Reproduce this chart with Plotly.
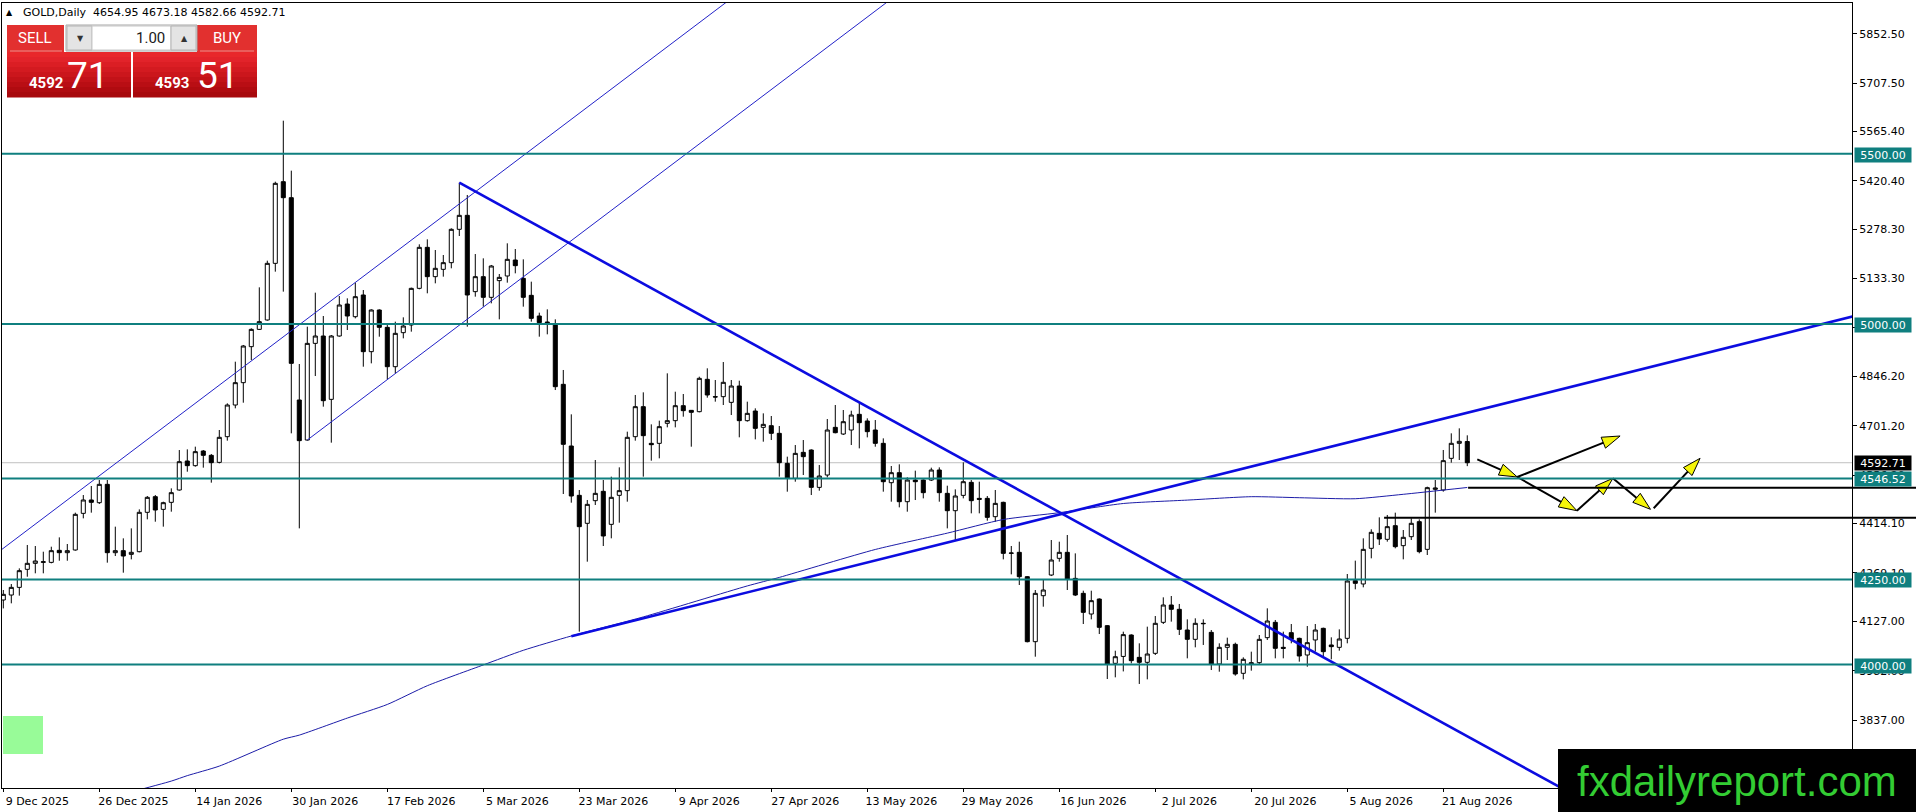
import plotly.graph_objects as go

# ---------------- data ----------------
date_labels = ["9 Dec 2025", "26 Dec 2025", "14 Jan 2026", "30 Jan 2026", "17 Feb 2026",
               "5 Mar 2026", "23 Mar 2026", "9 Apr 2026", "27 Apr 2026", "13 May 2026",
               "29 May 2026", "16 Jun 2026", "2 Jul 2026", "20 Jul 2026", "5 Aug 2026",
               "21 Aug 2026"]
date_label_bars = [0, 12, 24, 36, 48, 60, 72, 84, 96, 108, 120, 132, 144, 156, 168, 180]

opens = [4189.7, 4204.3, 4226.8, 4279.7, 4297.3, 4300.0, 4300.2, 4335.5, 4328.6, 4336.5,
         4444.1, 4483.3, 4475.4, 4529.3, 4328.6, 4334.5, 4323.7, 4331.5, 4447.1, 4493.1,
         4455.8, 4476.4, 4512.6, 4597.8, 4584.1, 4627.1, 4614.4, 4593.8, 4669.2, 4762.2,
         4827.8, 4933.5, 4984.3, 5011.8, 5178.1, 5417.9, 5370.9, 4776.9, 4659.4, 4943.2,
         4964.8, 4778.8, 4964.8, 5058.7, 5021.5, 5085.2, 4918.8, 5041.1, 4990.2, 4874.7,
         4974.6, 4997.1, 5104.7, 5225.1, 5139.0, 5160.5, 5180.1, 5278.0, 5319.1, 5095.0,
         5139.0, 5078.3, 5127.3, 5141.0, 5187.9, 5134.1, 5084.2, 5023.5, 5005.9, 5000.0,
         4822.9, 4641.8, 4497.0, 4414.8, 4481.3, 4508.7, 4411.8, 4497.0, 4510.7, 4669.2,
         4757.3, 4649.6, 4649.6, 4708.4, 4716.2, 4760.2, 4746.5, 4742.6, 4837.6, 4786.7,
         4786.7, 4770.0, 4818.0, 4716.2, 4744.5, 4696.6, 4701.5, 4679.0, 4590.9, 4546.8,
         4623.2, 4630.0, 4520.4, 4556.6, 4696.6, 4677.0, 4688.8, 4734.8, 4715.2, 4688.8,
         4649.6, 4534.1, 4563.5, 4478.3, 4541.9, 4541.9, 4541.9, 4571.3, 4502.8, 4451.9,
         4496.9, 4535.1, 4488.1, 4488.1, 4434.3, 4476.4, 4326.6, 4329.6, 4258.1, 4067.3,
         4202.3, 4263.0, 4312.0, 4329.6, 4253.2, 4209.2, 4148.5, 4192.5, 4114.3, 4003.7,
         4024.0, 4086.9, 4021.3, 4006.7, 4033.1, 4124.1, 4175.0, 4162.3, 4101.6, 4074.2,
         4121.2, 4094.7, 4001.8, 4050.7, 4059.5, 3974.4, 4000.8, 4005.7, 4079.1, 4124.1,
         4050.7, 4093.8, 4077.1, 4028.2, 4072.3, 4106.5, 4057.6, 4050.7, 4077.1, 4246.4,
         4236.7, 4341.4, 4385.4, 4367.8, 4407.9, 4349.2, 4375.6, 4419.7, 4338.4, 4514.6,
         4512.6, 4605.6, 4649.7, 4654.95]
highs = [4219.0, 4236.6, 4282.6, 4351.2, 4348.2, 4331.5, 4346.2, 4373.6, 4354.1, 4446.1,
         4497.9, 4524.4, 4542.0, 4542.0, 4405.0, 4370.7, 4400.0, 4455.8, 4495.0, 4497.9,
         4478.3, 4517.5, 4630.0, 4632.0, 4639.9, 4630.0, 4618.3, 4688.8, 4767.1, 4889.4,
         4938.4, 4987.3, 5107.7, 5186.0, 5417.9, 5597.0, 5450.2, 4882.6, 4992.2, 5092.0,
         5023.5, 4967.7, 5082.2, 5075.4, 5121.4, 5099.8, 5043.1, 5043.1, 5002.0, 5006.9,
         5019.6, 5106.7, 5233.9, 5248.6, 5217.3, 5202.6, 5280.9, 5415.0, 5378.8, 5205.5,
         5192.8, 5173.3, 5146.8, 5236.9, 5220.2, 5189.9, 5124.3, 5033.3, 5043.1, 5013.7,
         4865.0, 4734.8, 4512.6, 4483.3, 4600.7, 4542.0, 4551.8, 4579.2, 4683.9, 4791.6,
         4799.4, 4705.4, 4716.2, 4855.2, 4801.3, 4794.5, 4747.5, 4845.4, 4869.9, 4835.6,
         4888.4, 4835.6, 4833.6, 4772.0, 4752.4, 4737.7, 4729.9, 4700.5, 4610.5, 4644.7,
         4659.4, 4632.0, 4586.0, 4721.1, 4762.2, 4747.5, 4745.5, 4769.0, 4723.0, 4718.1,
         4664.3, 4583.1, 4588.0, 4549.8, 4569.4, 4543.9, 4578.2, 4579.1, 4525.3, 4514.5,
         4593.8, 4541.9, 4537.0, 4495.0, 4512.6, 4478.3, 4348.2, 4360.9, 4260.0, 4219.0,
         4248.3, 4365.8, 4360.9, 4380.5, 4326.6, 4217.0, 4217.0, 4194.5, 4116.2, 4040.8,
         4096.7, 4088.9, 4062.5, 4111.4, 4142.7, 4197.5, 4201.4, 4178.0, 4132.9, 4135.9,
         4132.9, 4101.6, 4062.5, 4079.1, 4064.4, 4021.3, 4038.0, 4086.9, 4165.2, 4131.0,
         4096.7, 4119.2, 4079.1, 4113.3, 4119.2, 4108.5, 4080.1, 4103.5, 4266.0, 4305.2,
         4370.7, 4397.2, 4432.4, 4439.3, 4446.1, 4395.2, 4429.5, 4426.5, 4522.4, 4542.0,
         4630.1, 4679.0, 4693.7, 4673.18]
lows = [4165.0, 4179.9, 4202.4, 4258.0, 4268.0, 4268.0, 4297.3, 4305.0, 4305.0, 4334.5,
        4429.4, 4446.1, 4471.5, 4299.3, 4318.8, 4269.9, 4309.0, 4329.6, 4426.5, 4419.6,
        4405.0, 4449.0, 4510.7, 4566.4, 4581.1, 4578.2, 4534.2, 4590.9, 4657.5, 4752.4,
        4769.0, 4894.3, 4982.4, 5009.8, 5153.7, 5095.0, 4679.0, 4400.0, 4657.5, 4847.3,
        4757.3, 4651.6, 4962.8, 4982.4, 5016.6, 4874.7, 4884.5, 4962.8, 4837.6, 4855.2,
        4957.9, 4977.5, 5101.8, 5090.1, 5119.4, 5139.0, 5163.5, 5258.4, 4992.2, 5080.3,
        5050.9, 5060.7, 5013.7, 5121.4, 5148.8, 5050.9, 5006.9, 4962.8, 4969.7, 4806.2,
        4500.9, 4475.4, 4096.7, 4302.2, 4468.6, 4348.2, 4370.7, 4416.7, 4478.4, 4657.5,
        4551.8, 4598.7, 4605.6, 4696.6, 4696.6, 4727.9, 4639.8, 4740.7, 4783.7, 4772.0,
        4762.2, 4732.8, 4667.3, 4713.3, 4661.3, 4654.5, 4659.4, 4551.7, 4507.7, 4537.0,
        4556.6, 4497.9, 4510.6, 4549.8, 4679.0, 4674.1, 4644.7, 4634.9, 4667.2, 4639.8,
        4507.7, 4478.3, 4461.7, 4449.0, 4483.2, 4488.1, 4539.0, 4478.3, 4400.0, 4365.8,
        4488.1, 4444.1, 4444.1, 4422.5, 4419.6, 4309.0, 4265.0, 4233.7, 4065.3, 4023.2,
        4170.0, 4260.0, 4302.2, 4219.0, 4201.3, 4119.2, 4132.8, 4089.8, 3957.7, 3962.6,
        3980.0, 4003.7, 3943.1, 3956.7, 4028.2, 4119.2, 4126.1, 4086.9, 4018.4, 4050.7,
        4057.6, 3984.1, 3979.2, 4013.5, 3967.5, 3956.7, 3982.2, 4001.8, 4072.3, 4018.4,
        4018.4, 4062.5, 4008.6, 3993.9, 4038.0, 4023.3, 4015.5, 4040.9, 4062.5, 4221.0,
        4226.9, 4312.0, 4351.2, 4361.0, 4341.4, 4309.1, 4365.8, 4326.7, 4321.8, 4446.1,
        4507.8, 4592.9, 4600.7, 4582.66]
closes = [4206.3, 4226.8, 4275.8, 4297.3, 4304.1, 4302.0, 4334.5, 4328.6, 4334.5, 4441.2,
          4483.3, 4476.4, 4529.3, 4328.6, 4334.5, 4318.8, 4329.6, 4447.1, 4491.1, 4453.9,
          4475.4, 4504.8, 4595.8, 4584.1, 4625.2, 4614.4, 4592.9, 4667.3, 4762.2, 4827.8,
          4935.4, 4984.3, 5006.9, 5178.1, 5413.0, 5370.9, 4884.5, 4657.5, 4943.2, 4964.8,
          4774.9, 4964.8, 5055.8, 5023.5, 5080.3, 4918.8, 5041.1, 4990.2, 4874.7, 4972.6,
          4994.1, 5104.7, 5225.1, 5139.0, 5163.5, 5180.1, 5278.0, 5319.1, 5085.2, 5139.0,
          5078.3, 5170.3, 5137.0, 5189.9, 5171.3, 5078.3, 5016.6, 5004.0, 5004.0, 4816.0,
          4646.7, 4495.0, 4405.0, 4470.5, 4502.8, 4377.6, 4491.1, 4510.7, 4667.3, 4757.3,
          4672.2, 4645.7, 4698.6, 4716.2, 4760.2, 4745.6, 4740.7, 4840.5, 4791.6, 4785.7,
          4828.8, 4818.0, 4716.2, 4737.7, 4693.6, 4705.4, 4679.0, 4592.8, 4546.8, 4620.2,
          4610.5, 4520.4, 4553.7, 4688.8, 4680.9, 4713.2, 4732.8, 4710.3, 4683.9, 4649.6,
          4537.0, 4563.5, 4478.3, 4541.9, 4537.0, 4504.8, 4571.3, 4504.8, 4451.9, 4495.0,
          4537.0, 4481.3, 4485.2, 4432.3, 4473.4, 4326.6, 4327.6, 4258.1, 4067.3, 4209.2,
          4219.0, 4307.1, 4329.6, 4250.3, 4204.3, 4153.4, 4187.7, 4109.4, 4000.7, 4023.2,
          4088.0, 4011.6, 4006.7, 4031.1, 4121.2, 4175.0, 4162.3, 4103.5, 4074.2, 4121.2,
          4120.2, 4001.8, 4050.7, 4059.5, 3972.4, 4015.5, 4005.7, 4074.2, 4128.0, 4047.8,
          4047.8, 4074.2, 4025.3, 4064.4, 4101.6, 4038.0, 4052.7, 4075.2, 4245.5, 4238.6,
          4338.4, 4388.4, 4368.8, 4405.0, 4346.3, 4373.7, 4414.8, 4331.6, 4519.5, 4518.5,
          4598.8, 4649.7, 4655.5, 4592.71]

# moving-average curve (bar index, price)
ma_bars = [15, 21, 23, 27, 35, 37, 43, 48, 53, 60, 65, 71, 80, 93, 97, 109, 118, 125,
           132, 140, 148, 156, 162, 169, 175, 183]
ma_vals = [3620, 3658, 3674, 3702, 3781, 3793, 3843, 3883, 3938, 3999, 4042, 4084, 4140,
           4231, 4256, 4338, 4386, 4426, 4446, 4473, 4483, 4493, 4490, 4487, 4500, 4520]

# trend lines: [bar0, bar1], [price0, price1]
channel_upper_x, channel_upper_y = [-2, 91], [4306.0, 5955.8]
channel_lower_x, channel_lower_y = [38, 112], [4659.4, 5972.2]
trend_down_x, trend_down_y = [57, 200], [5415.0, 3570.3]
trend_up_x, trend_up_y = [71, 240], [4083.0, 5073.7]

# horizontal levels
levels = [5500.00, 5000.00, 4546.52, 4250.00, 4000.00]
bid_price = 4592.71
ray_bars = [183.1, 172.6]
ray_prices = [4519.4, 4431.3]

# projected path arrows: (bar0, price0, bar1, price1)
arrow_x0 = [184.25, 189.25, 189.25, 196.7, 201.2, 206.3]
arrow_y0 = [4602.7, 4550.8, 4550.8, 4451.9, 4547.0, 4458.9]
arrow_x1 = [189.25, 202.1, 196.7, 201.2, 205.9, 212.1]
arrow_y1 = [4550.8, 4671.2, 4451.9, 4547.0, 4455.9, 4605.7]

ytick_vals = [5852.5, 5707.5, 5565.4, 5420.4, 5278.3, 5133.3, 4989.2, 4846.2, 4701.2,
              4556.2, 4414.1, 4269.1, 4127.0, 3982.0, 3837.0]

title_text = "GOLD,Daily  4654.95 4673.18 4582.66 4592.71"
sell_big, sell_small = "71", "4592"
buy_big, buy_small = "51", "4593"
lot_text = "1.00"

# ---------------- layout geometry ----------------
FIG_W, FIG_H = 1916, 812
ML, MR, MT, MB = 2, 64, 3, 24
PW = FIG_W - ML - MR
PH = FIG_H - MT - MB
X_RANGE = [-0.1625, 231.09]
Y_RANGE = [3637.7, 5942.5]


def px(x):
    return (x - ML) / PW


def py(y):
    return 1 - (y - MT) / PH


def bar_to_paper(b):
    return (b - X_RANGE[0]) / (X_RANGE[1] - X_RANGE[0])


FONT = "DejaVu Sans"
TEAL = "#0f7f7f"
BLUE = "#0c0ce0"

fig = go.Figure()

fig.add_trace(go.Candlestick(
    x=list(range(len(opens))), open=opens, high=highs, low=lows, close=closes,
    increasing=dict(line=dict(color="black", width=1), fillcolor="white"),
    decreasing=dict(line=dict(color="black", width=1), fillcolor="black"),
    whiskerwidth=0, showlegend=False, hoverinfo="none"))

fig.add_trace(go.Scatter(x=ma_bars, y=ma_vals, mode="lines",
                         line=dict(color="#1c1ca8", width=1, shape="spline", smoothing=0.6),
                         showlegend=False, hoverinfo="skip"))

for xs, ys, w in [(channel_upper_x, channel_upper_y, 1), (channel_lower_x, channel_lower_y, 1),
                  (trend_down_x, trend_down_y, 2.6), (trend_up_x, trend_up_y, 2.6)]:
    fig.add_trace(go.Scatter(x=xs, y=ys, mode="lines",
                             line=dict(color=BLUE if w > 1 else "#2222c8", width=w),
                             showlegend=False, hoverinfo="skip"))

for x0, y0, x1, y1 in zip(arrow_x0, arrow_y0, arrow_x1, arrow_y1):
    fig.add_trace(go.Scatter(
        x=[x0, x1], y=[y0, y1], mode="lines+markers",
        line=dict(color="black", width=2),
        marker=dict(symbol="arrow", size=19, angleref="previous", color="#f5f50a",
                    line=dict(color="black", width=1)),
        showlegend=False, hoverinfo="skip"))

shapes = []
# level lines
for lv in levels:
    shapes.append(dict(type="line", xref="paper", yref="y", x0=0, x1=1, y0=lv, y1=lv,
                       line=dict(color=TEAL, width=2), layer="above"))
shapes.append(dict(type="line", xref="paper", yref="y", x0=0, x1=1, y0=bid_price, y1=bid_price,
                   line=dict(color="#c0c0c0", width=1), layer="below"))
for b, p in zip(ray_bars, ray_prices):
    shapes.append(dict(type="line", xref="paper", yref="y", x0=bar_to_paper(b), x1=px(FIG_W),
                       y0=p, y1=p, line=dict(color="black", width=2), layer="above"))


def rect(x0, y0, x1, y1, fill, line_color=None, lw=0):
    shapes.append(dict(type="rect", xref="paper", yref="paper",
                       x0=px(x0), x1=px(x1), y0=py(y1), y1=py(y0),
                       fillcolor=fill, line=dict(color=line_color or fill, width=lw),
                       layer="above"))


# one-click trading panel
rect(7, 25, 64, 52, "#e2302f")
rect(197, 25, 257, 52, "#e2302f")
reds = ["#e8272b", "#e2232a", "#db1e24", "#d31a20", "#cb161c", "#c21218", "#b90e14", "#b00b10", "#a8090d"]
band_h = 45 / len(reds)
for k, c in enumerate(reds):
    y0 = 52 + k * band_h
    rect(7, y0, 131, y0 + band_h + 0.5, c)
    rect(133, y0, 257, y0 + band_h + 0.5, c)
shapes.append(dict(type="line", xref="paper", yref="paper", x0=px(10), x1=px(62), y0=py(51), y1=py(51),
                   line=dict(color="#f08a8a", width=1), layer="above"))
shapes.append(dict(type="line", xref="paper", yref="paper", x0=px(200), x1=px(254), y0=py(51), y1=py(51),
                   line=dict(color="#f08a8a", width=1), layer="above"))
rect(66, 25, 197, 51, "#f0f0f0", "#a6a6a6", 1)
rect(67, 26, 92, 50, "#e4e4e4", "#b4b4b4", 1)
rect(92, 26, 171, 50, "#ffffff", "#c8c8c8", 1)
rect(171, 26, 196, 50, "#e4e4e4", "#b4b4b4", 1)
# small green box bottom-left
rect(3, 716, 43, 754, "#98fb98")
# watermark box
rect(1558, 749, 1916, 812, "#000000")

annotations = []


def text_px(t, x, y, size, color, xanchor="center", family=FONT, yshift=0):
    annotations.append(dict(text=t, xref="paper", yref="paper", x=px(x), y=py(y),
                            xanchor=xanchor, yanchor="middle", showarrow=False, yshift=yshift,
                            font=dict(family=family, size=size, color=color)))


text_px("\u25B2", 4, 13, 8, "black", xanchor="left")
text_px(title_text, 21, 13, 11, "black", xanchor="left")
text_px("SELL", 35, 38.5, 15, "white", family="Roboto")
text_px("BUY", 227, 38.5, 15, "white", family="Roboto")
text_px(lot_text, 167, 38.5, 15, "#1a1a1a", xanchor="right", family="Roboto")
text_px("\u25BC", 80, 38.5, 8, "#333333")
text_px("\u25B2", 184, 38.5, 8, "#333333")
text_px("<b>" + sell_small + "</b>", 27, 83, 15, "white", xanchor="left", family="Roboto")
text_px(sell_big, 65, 76, 37, "white", xanchor="left", family="Roboto")
text_px("<b>" + buy_small + "</b>", 153, 83, 15, "white", xanchor="left", family="Roboto")
text_px(buy_big, 195, 76, 37, "white", xanchor="left", family="Roboto")
text_px("fxdailyreport.com", 1737, 781, 42, "#33cc33", family="Liberation Sans")

# price labels on the right axis
for lv in levels:
    annotations.append(dict(text=f"{lv:.2f}", xref="paper", yref="y", x=1, y=lv, xanchor="left",
                            yanchor="middle", xshift=2, yshift=-1, showarrow=False,
                            bgcolor=TEAL, borderpad=1, width=54, height=12,
                            font=dict(family=FONT, size=11, color="white")))
annotations.append(dict(text=f"{bid_price:.2f}", xref="paper", yref="y", x=1, y=bid_price,
                        xanchor="left", yanchor="middle", xshift=2, showarrow=False,
                        bgcolor="black", borderpad=1, width=54, height=12,
                        font=dict(family=FONT, size=11, color="white")))

fig.update_layout(
    width=FIG_W, height=FIG_H,
    margin=dict(l=ML, r=MR, t=MT, b=MB, pad=0),
    paper_bgcolor="white", plot_bgcolor="white",
    showlegend=False, hovermode=False,
    boxgap=0.3, boxgroupgap=0.28,
    shapes=shapes, annotations=annotations,
    xaxis=dict(range=X_RANGE, rangeslider=dict(visible=False), showgrid=False, zeroline=False,
               showline=True, mirror=True, linecolor="black", linewidth=1,
               tickmode="array", tickvals=date_label_bars, ticktext=date_labels,
               ticks="outside", ticklen=3, tickcolor="black", ticklabelshift=34,
               tickfont=dict(family=FONT, size=11, color="black")),
    yaxis=dict(range=Y_RANGE, side="right", showgrid=False, zeroline=False,
               showline=True, mirror=True, linecolor="black", linewidth=1,
               tickmode="array", tickvals=ytick_vals, ticktext=[f"{v:.2f}" for v in ytick_vals],
               ticks="outside", ticklen=4, tickcolor="black",
               tickfont=dict(family=FONT, size=11, color="black")),
)

fig.write_html("out.html", config={"displayModeBar": False},
               post_script="document.body.style.margin='0';document.body.style.overflow='hidden';")
